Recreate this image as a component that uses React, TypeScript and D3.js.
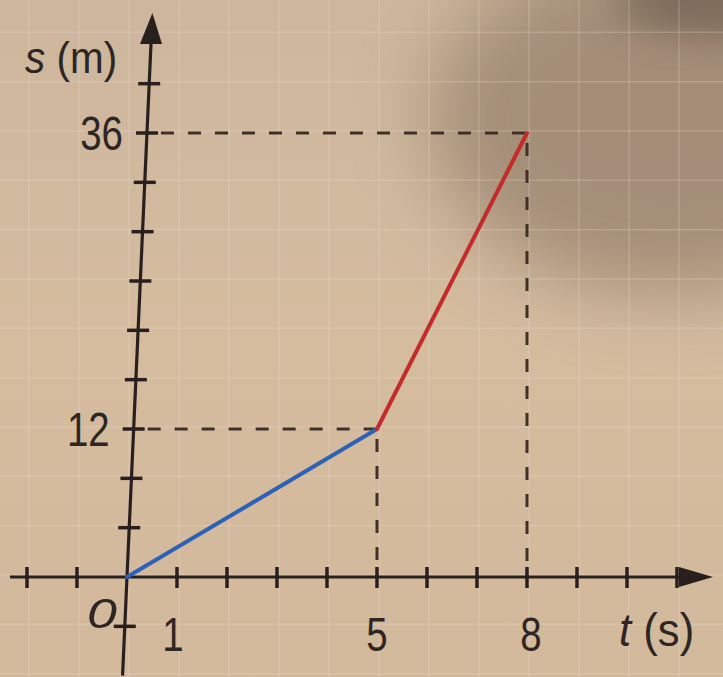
import React from "react";
import * as d3 from "d3";

// ---- data ----
const times = [0, 5, 8];            // t (s)
const distances = [0, 12, 36];      // s (m)
const xTickValues = [-2, -1, 1, 2, 3, 4, 5, 6, 7, 8, 9, 10, 11];
const yTickValues = [-4, 4, 8, 12, 16, 20, 24, 28, 32, 36, 40];
const xLabelValues = [1, 5, 8];
const yLabelValues = [12, 36];
const gridX = [-2, -1, 0, 1, 2, 3, 4, 5, 6, 7, 8, 9, 10, 11, 12];
const gridY = [-8, -4, 0, 4, 8, 12, 16, 20, 24, 28, 32, 36, 40, 44, 48];

const W = 723;
const H = 677;

const AXIS = "#2a1f1f";
const DASH = "#3f3128";
const TXT = "#2e2624";
const FONT = "'Liberation Sans', Arial, sans-serif";

export default function App() {
  const x = d3.scaleLinear().domain([0, 8]).range([127, 527]);
  const y = d3.scaleLinear().domain([0, 36]).range([577, 133]);
  const x0 = x(0);
  const y0 = y(0);
  // slight tilt of the vertical axis in the photo
  const k = 0.045;
  const yAxisX = (v: number) => x0 + k * (y0 - y(v));

  const line = d3
    .line<number>()
    .x((_, i) => x(times[i]))
    .y((d) => y(d));

  const seg1 = line(distances.slice(0, 2)) || "";
  const seg2 =
    d3
      .line<number>()
      .x((_, i) => x(times[i + 1]))
      .y((d) => y(d))(distances.slice(1, 3)) || "";

  const yTop = 13;
  const xRight = 713;
  const sx = 0.8; // narrow type

  return (
    <svg
      width={W}
      height={H}
      style={{ position: "absolute", left: 0, top: 0, display: "block" }}
    >
      <defs>
        <filter id="blur" x="-50%" y="-50%" width="200%" height="200%">
          <feGaussianBlur stdDeviation="38" />
        </filter>
        <filter id="blur2" x="-50%" y="-50%" width="200%" height="200%">
          <feGaussianBlur stdDeviation="20" />
        </filter>
        <linearGradient id="bg" x1="0" y1="0" x2="0" y2="1">
          <stop offset="0" stopColor="#ccb69d" />
          <stop offset="0.5" stopColor="#d5bc9f" />
          <stop offset="1" stopColor="#d3b99c" />
        </linearGradient>
      </defs>
      {/* paper background */}
      <rect x={0} y={0} width={W} height={H} fill="url(#bg)" />
      <ellipse cx={670} cy={120} rx={240} ry={175} fill="#9a846f" opacity={0.8} filter="url(#blur)" />
      <ellipse cx={723} cy={0} rx={110} ry={35} fill="#5a4a3c" opacity={0.55} filter="url(#blur2)" />

      {/* paper grid */}
      <g stroke="#f1e4d4" strokeOpacity={0.22} strokeWidth={1.5}>
        {gridX.map((t) => (
          <line key={"gx" + t} x1={x(t) + 2} x2={x(t) + 2} y1={0} y2={H} />
        ))}
        {gridY.map((s) => (
          <line key={"gy" + s} x1={0} x2={W} y1={y(s) - 2} y2={y(s) - 2} />
        ))}
      </g>

      {/* dashed guides */}
      <g stroke={DASH} strokeWidth={3} strokeDasharray="13 14" fill="none">
        {times.slice(1).map((t, i) => (
          <React.Fragment key={"d" + t}>
            <line x1={yAxisX(distances[i + 1]) + 14} x2={x(t)} y1={y(distances[i + 1])} y2={y(distances[i + 1])} />
            <line x1={x(t)} x2={x(t)} y1={y(distances[i + 1]) + 10} y2={y0 - 8} />
          </React.Fragment>
        ))}
      </g>

      {/* x axis */}
      <line x1={10} x2={xRight - 20} y1={y0} y2={y0} stroke={AXIS} strokeWidth={3.2} />
      <path
        d={`M${xRight},${y0} L${xRight - 34},${y0 - 10} L${xRight - 34},${y0 + 10} Z`}
        fill={AXIS}
      />
      <g stroke={AXIS} strokeWidth={3.5}>
        {xTickValues.map((t) => (
          <line key={"xt" + t} x1={x(t)} x2={x(t)} y1={y0 - 10} y2={y0 + 11} />
        ))}
      </g>

      {/* y axis (slightly tilted) */}
      <line x1={yAxisX(-8)} y1={y(-8)} x2={yAxisX(y.invert(yTop + 25))} y2={yTop + 25} stroke={AXIS} strokeWidth={3.2} />
      {(() => {
        const tx = yAxisX(y.invert(yTop));
        const bx = yAxisX(y.invert(yTop + 31));
        return <path d={`M${tx},${yTop} L${bx - 11},${yTop + 31} L${bx + 11},${yTop + 31} Z`} fill={AXIS} />;
      })()}
      <g stroke={AXIS} strokeWidth={3.5}>
        {yTickValues.map((s) => (
          <line key={"yt" + s} x1={yAxisX(s) - 11} x2={yAxisX(s) + 11} y1={y(s)} y2={y(s)} />
        ))}
      </g>

      {/* motion segments */}
      <path d={seg1} stroke="#2d62b6" strokeWidth={4} fill="none" strokeLinecap="round" />
      <path d={seg2} stroke="#c42b2b" strokeWidth={4} fill="none" strokeLinecap="round" />

      {/* tick labels */}
      <g fill={TXT} fontFamily={FONT} fontSize={48}>
        {xLabelValues.map((t) => {
          const cx = x(t) - (t === 1 ? 4 : t === 8 ? -4 : 0);
          return (
            <text key={"xl" + t} transform={`translate(${cx},651) scale(${sx},1)`} textAnchor="middle">
              {t}
            </text>
          );
        })}
        {yLabelValues.map((s) => (
          <text
            key={"yl" + s}
            transform={`translate(${yAxisX(s) - 24},${y(s) + 17}) scale(${sx},1)`}
            textAnchor="end"
          >
            {s}
          </text>
        ))}
        <text transform="translate(102,628) scale(1.25,1)" textAnchor="middle" fontStyle="italic" fontSize={43}>
          0
        </text>
      </g>

      {/* axis titles */}
      <text transform="translate(25,73) scale(0.92,1)" fill={TXT} fontFamily={FONT} fontSize={44}>
        <tspan fontStyle="italic">s</tspan>
        <tspan> (m)</tspan>
      </text>
      <text transform="translate(619,646) scale(0.95,1)" fill={TXT} fontFamily={FONT} fontSize={46}>
        <tspan fontStyle="italic">t</tspan>
        <tspan> (s)</tspan>
      </text>
    </svg>
  );
}
